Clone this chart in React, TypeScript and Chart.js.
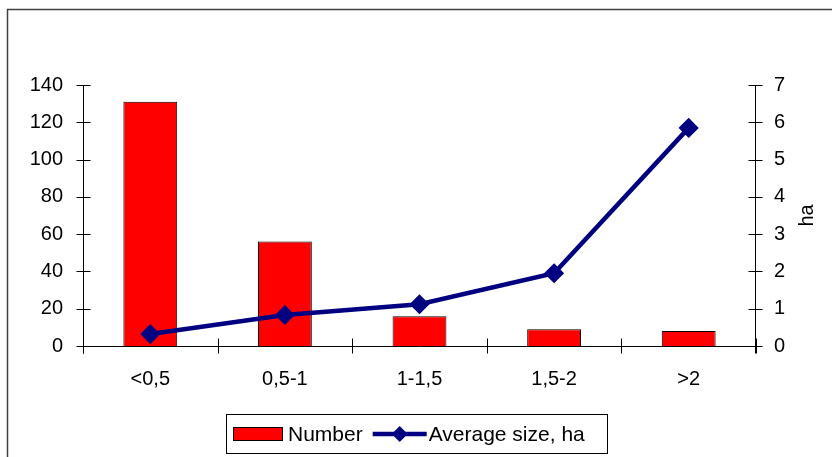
import React, { useEffect, useRef } from "react";
import { Chart, registerables } from "chart.js";

Chart.register(...registerables);

const categories = ["<0,5", "0,5-1", "1-1,5", "1,5-2", ">2"];
const numberValues = [131, 56, 16, 9, 8];
const avgSizeValues = [0.32, 0.83, 1.12, 1.95, 5.85];
const leftTicks = { min: 0, max: 140, step: 20 };
const rightTicks = { min: 0, max: 7, step: 1 };
const seriesNames = ["Number", "Average size, ha"];
const rightTitle = "ha";

const FONT = "'Liberation Sans', Arial, sans-serif";
const NAVY = "#000080";
const RED = "#FF0000";

const decorPlugin = {
  id: "decor",
  afterDraw(chart: any) {
    const ctx = chart.ctx;
    const area = chart.chartArea;
    const x = chart.scales.x;
    const y = chart.scales.y;
    const y1 = chart.scales.y1;
    ctx.save();
    // outer frame (left & top visible)
    ctx.strokeStyle = "#404040";
    ctx.lineWidth = 1.5;
    ctx.beginPath();
    ctx.moveTo(7.5, chart.height);
    ctx.lineTo(7.5, 9.5);
    ctx.lineTo(chart.width, 9.5);
    ctx.stroke();

    ctx.strokeStyle = "#000";
    ctx.lineWidth = 1;
    const L = Math.round(area.left) + 0.5;
    const R = Math.round(area.right) - 0.5;
    const B = Math.round(area.bottom) + 0.5;
    const T = Math.round(area.top);
    // axes
    ctx.beginPath();
    ctx.moveTo(L, T);
    ctx.lineTo(L, B + 7);
    ctx.moveTo(R, T);
    ctx.lineTo(R, B + 7);
    ctx.moveTo(L, B);
    ctx.lineTo(R, B);
    // left ticks
    for (let v = leftTicks.min; v <= leftTicks.max; v += leftTicks.step) {
      const py = Math.round(y.getPixelForValue(v)) + 0.5;
      ctx.moveTo(L - 7, py);
      ctx.lineTo(L + 7, py);
    }
    for (let v = rightTicks.min; v <= rightTicks.max; v += rightTicks.step) {
      const py = Math.round(y1.getPixelForValue(v)) + 0.5;
      ctx.moveTo(R - 7, py);
      ctx.lineTo(R + 7, py);
    }
    // category boundary ticks
    const n = categories.length;
    const w = (x.getPixelForValue(1) - x.getPixelForValue(0));
    for (let i = 0; i <= n; i++) {
      const px = Math.round(x.getPixelForValue(0) - w / 2 + i * w) + 0.5;
      ctx.moveTo(px, B - 8);
      ctx.lineTo(px, B + 7);
    }
    ctx.stroke();

    // right axis title
    ctx.fillStyle = "#000";
    ctx.font = "20px " + FONT;
    ctx.textAlign = "center";
    ctx.textBaseline = "middle";
    ctx.save();
    ctx.translate(807, (area.top + area.bottom) / 2);
    ctx.rotate(-Math.PI / 2);
    ctx.fillText(rightTitle, 0, 0);
    ctx.restore();

    // legend
    const lx = 226.5, ly = 414.5, lw = 381, lh = 39;
    ctx.fillStyle = "#fff";
    ctx.fillRect(lx, ly, lw, lh);
    ctx.strokeStyle = "#000";
    ctx.lineWidth = 1;
    ctx.strokeRect(lx, ly, lw, lh);
    const cy = 434;
    ctx.fillStyle = RED;
    ctx.fillRect(233.5, 427.5, 49, 13);
    ctx.strokeRect(233.5, 427.5, 49, 13);
    ctx.fillStyle = "#000";
    ctx.font = "21px " + FONT;
    ctx.textAlign = "left";
    ctx.fillText(seriesNames[0], 288, cy + 1);
    const nameW = ctx.measureText(seriesNames[0]).width;
    const ls = 288 + nameW + 10;
    ctx.strokeStyle = NAVY;
    ctx.lineWidth = 4.5;
    ctx.beginPath();
    ctx.moveTo(ls, cy);
    ctx.lineTo(ls + 54, cy);
    ctx.stroke();
    ctx.fillStyle = NAVY;
    const dx = ls + 27;
    ctx.beginPath();
    ctx.moveTo(dx, cy - 8);
    ctx.lineTo(dx + 8, cy);
    ctx.lineTo(dx, cy + 8);
    ctx.lineTo(dx - 8, cy);
    ctx.closePath();
    ctx.fill();
    ctx.fillStyle = "#000";
    ctx.fillText(seriesNames[1], ls + 56, cy + 1);
    ctx.restore();
  },
};

export default function App() {
  const ref = useRef<HTMLCanvasElement | null>(null);
  useEffect(() => {
    if (!ref.current) return;
    document.body.style.margin = "0";
    document.body.style.overflow = "hidden";
    const chart = new Chart(ref.current, {
      type: "bar",
      data: {
        labels: categories,
        datasets: [
          {
            type: "line",
            label: seriesNames[1],
            data: avgSizeValues,
            yAxisID: "y1",
            borderColor: NAVY,
            backgroundColor: NAVY,
            borderWidth: 4.5,
            pointStyle: "rectRot",
            pointRadius: 9,
            pointBorderWidth: 1.5,
            pointBackgroundColor: NAVY,
            pointBorderColor: NAVY,
            tension: 0,
            order: 0,
          } as any,
          {
            type: "bar",
            label: seriesNames[0],
            data: numberValues,
            yAxisID: "y",
            backgroundColor: RED,
            borderColor: "#000",
            borderWidth: 1,
            barPercentage: 0.4,
            categoryPercentage: 1,
            order: 1,
          } as any,
        ],
      },
      options: {
        responsive: false,
        animation: false,
        devicePixelRatio: 1,
        layout: { padding: { top: 85, left: 0, right: 0, bottom: 0 } },
        plugins: { legend: { display: false }, tooltip: { enabled: false } },
        scales: {
          x: {
            grid: { display: false, drawTicks: false },
            border: { display: false },
            ticks: { color: "#000", font: { family: FONT, size: 20 }, padding: 21, maxRotation: 0 },
            afterFit: (s: any) => { s.height = 111; },
          },
          y: {
            position: "left",
            min: leftTicks.min,
            max: leftTicks.max,
            grid: { display: false, drawTicks: false },
            border: { display: false },
            ticks: { stepSize: leftTicks.step, color: "#000", font: { family: FONT, size: 20 }, padding: 20 },
            afterFit: (s: any) => { s.width = 83; },
          },
          y1: {
            position: "right",
            min: rightTicks.min,
            max: rightTicks.max,
            grid: { display: false, drawTicks: false },
            border: { display: false },
            ticks: { stepSize: rightTicks.step, color: "#000", font: { family: FONT, size: 20 }, padding: 18 },
            afterFit: (s: any) => { s.width = 76; },
          },
        },
      },
      plugins: [decorPlugin],
    });
    return () => chart.destroy();
  }, []);
  return (
    <canvas
      ref={ref}
      width={832}
      height={457}
      style={{ position: "fixed", left: 0, top: 0, width: 832, height: 457, background: "#fff" }}
    />
  );
}
